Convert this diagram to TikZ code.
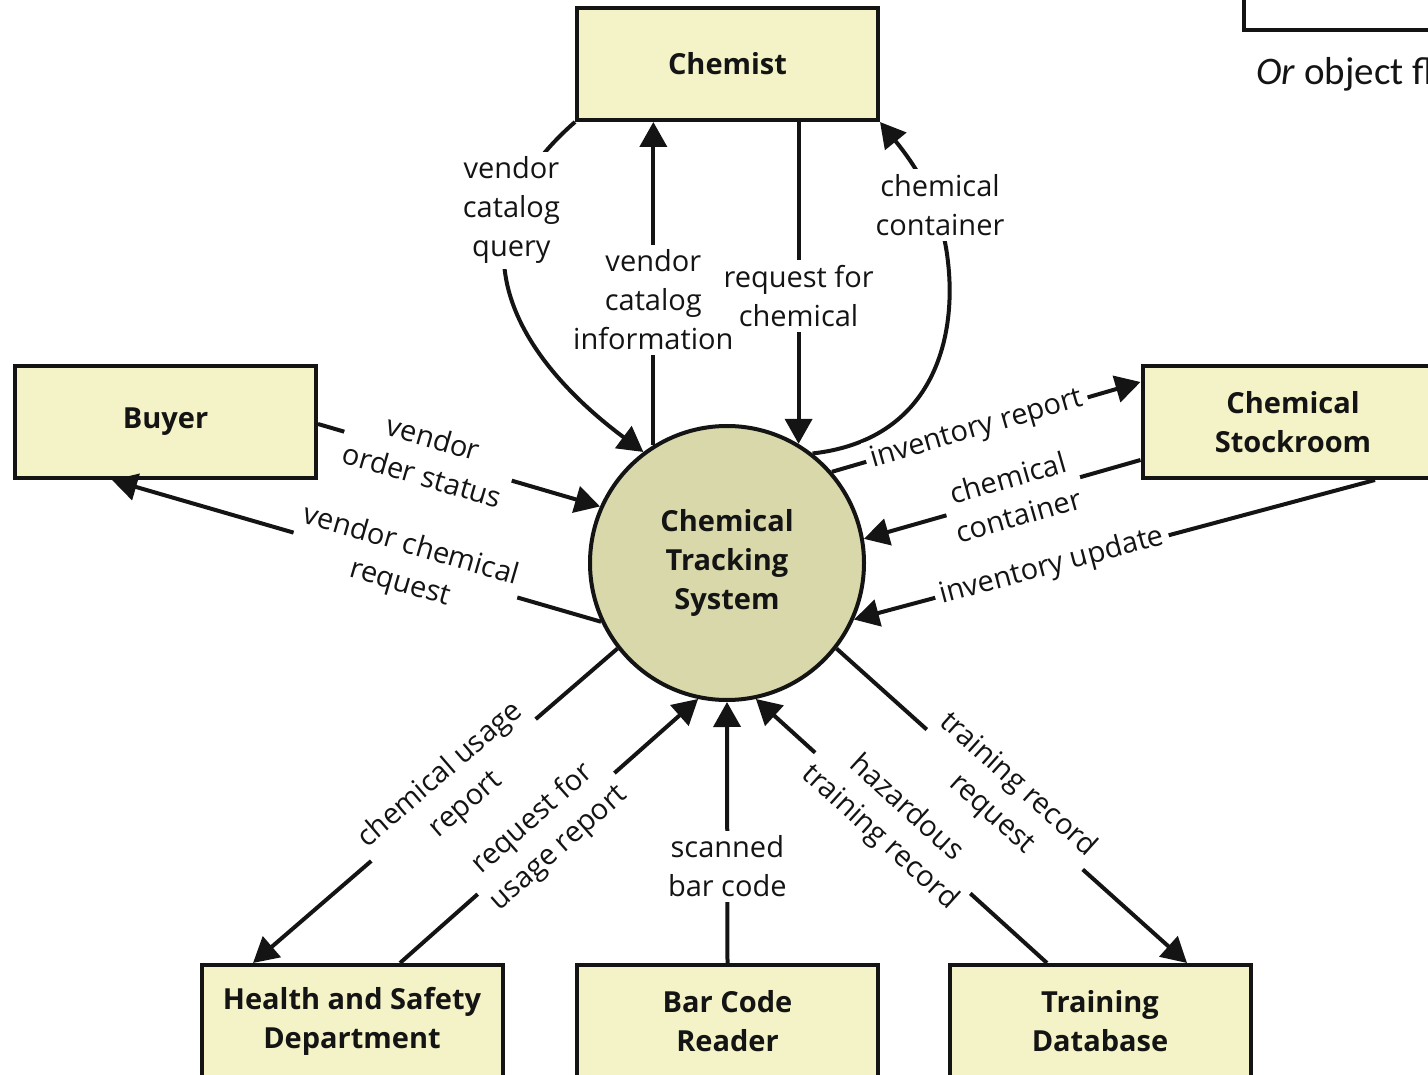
\documentclass[tikz,border=0pt]{standalone}
\usepackage{fontspec}
\setmainfont{Open Sans}
\newfontfamily\calfont{Carlito}
\usetikzlibrary{arrows.meta}
\definecolor{boxfill}{RGB}{243,243,199}
\definecolor{circfill}{RGB}{216,216,170}
\definecolor{ink}{RGB}{20,20,20}
\begin{document}
\begin{tikzpicture}[x=1pt,y=-1pt,
  ent/.style={draw=ink, line width=4pt, fill=boxfill, minimum width=301pt,
    minimum height=112pt, align=center, inner sep=0pt, text=ink,
    font=\bfseries\fontsize{29}{39}\selectfont},
  proc/.style={circle, draw=ink, line width=4pt, fill=circfill, minimum size=274pt,
    inner sep=0pt, align=center, text=ink, font=\bfseries\fontsize{29}{39}\selectfont},
  flow/.style={draw=ink, line width=4pt, -{Triangle[length=25pt,width=27pt]}},
  lbl/.style={fill=white, align=center, inner sep=5pt, text=ink,
    font=\fontsize{29}{39}\selectfont},
]
\useasboundingbox (0,0) rectangle (1428,1075);
\clip (0,0) rectangle (1428,1075);

% entities
\node[ent] (chemist) at (727.5,64) {Chemist};
\node[ent] (buyer) at (165.5,422) {Buyer};
\node[ent] (stock) at (1293,422) {Chemical\\Stockroom};
\node[ent] (health) at (352,1021) {Health and Safety\\Department};
\node[ent] (barcode) at (727.5,1021) {Bar Code\\Reader};
\node[ent] (training) at (1100,1021) {Training\\Database};
\node[proc] (cts) at (727,563) {Chemical\\Tracking\\System};

% partial legend at top right
\node[draw=ink, line width=4pt, fill=white, minimum width=301pt, minimum height=112pt] (legendbox) at (1394,-26) {};
\node[anchor=base west, inner sep=0pt, text=ink, font=\calfont\fontsize{39}{44}\selectfont] (legendtext) at (1256,85) {\textit{Or} object flow};

% flows with the Chemist
\draw[flow] (chemist.south west) .. controls (440,240) and (520,360) .. (cts.127)
  node[lbl,pos=0.25] {vendor\\catalog\\query};
\draw[flow] (cts.122.7) -- (cts.122.7 |- chemist.south)
  node[lbl,pos=0.45] {vendor\\catalog\\information};
\draw[flow] (cts.59.3 |- chemist.south) -- (cts.59.3)
  node[lbl,pos=0.54] {request for\\chemical};
\draw[flow] (cts.52) .. controls (932,440) and (957,340) .. (948,262)
  .. controls (942,205) and (915,165) .. (chemist.south east)
  node[lbl] at (940,205) {chemical\\container};

% flows with the Chemical Stockroom
\draw[flow] (cts.41) -- ([yshift=40pt]stock.west)
  node[lbl,sloped,pos=0.47] {inventory report};
\draw[flow] ([yshift=-38pt]stock.west) -- (cts.10)
  node[lbl,sloped,pos=0.46] {chemical\\container};
\draw[flow] ([xshift=82pt]stock.south) -- (cts.-24)
  node[lbl,sloped,pos=0.62] {inventory update};

% flows with the Buyer
\draw[flow] ([yshift=-2pt]buyer.east) -- (cts.156)
  node[lbl,sloped,pos=0.39] {vendor\\order status};
\draw[flow] (cts.205) -- ([xshift=-53.5pt]buyer.south)
  node[lbl,sloped,pos=0.40] {vendor chemical\\request};

% flows with the bottom entities
\draw[flow] (cts.218) -- ([xshift=-99pt]health.north)
  node[lbl,sloped,pos=0.45] {chemical usage\\report};
\draw[flow] ([xshift=48pt]health.north) -- (cts.258)
  node[lbl,sloped,pos=0.49] {request for\\usage report};
\draw[flow] (barcode.north) -- (cts.south)
  node[lbl,pos=0.37] {scanned\\bar code};
\draw[flow] ([xshift=-53pt]training.north) -- (cts.282)
  node[lbl,sloped,pos=0.53] {hazardous\\training record};
\draw[flow] (cts.-38) -- ([xshift=87pt]training.north)
  node[lbl,sloped,pos=0.48] {training record\\request};
\end{tikzpicture}
\end{document}
